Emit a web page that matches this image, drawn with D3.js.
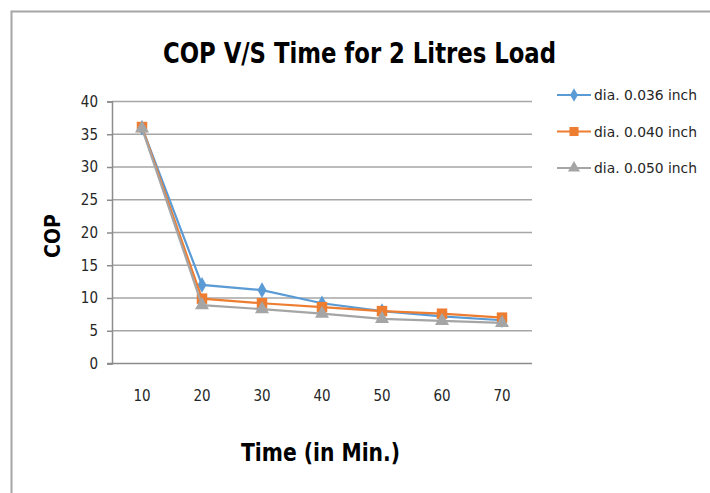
<!DOCTYPE html>
<html>
<head>
<meta charset="utf-8">
<script src="https://cdn.jsdelivr.net/npm/d3@7"></script>
<style>
  html, body { margin: 0; padding: 0; background: #fff; }
  svg { display: block; }
  text { font-family: "DejaVu Sans Condensed", "DejaVu Sans", sans-serif; font-stretch: condensed; }
</style>
</head>
<body>
<svg id="chart" width="710" height="493"></svg>
<script>
// Time steps (minutes) along the category axis
const times = ["10", "20", "30", "40", "50", "60", "70"];
// COP readings for each capillary diameter
const cop036 = [36.0, 12.0, 11.2, 9.2, 8.0, 7.2, 6.6];
const cop040 = [36.1, 9.9, 9.2, 8.6, 8.0, 7.6, 7.0];
const cop050 = [35.9, 8.9, 8.3, 7.6, 6.8, 6.5, 6.2];
const seriesNames = ["dia. 0.036 inch", "dia. 0.040 inch", "dia. 0.050 inch"];
const yTicks = [0, 5, 10, 15, 20, 25, 30, 35, 40];

const series = [
  { name: seriesNames[0], values: cop036, color: "#5b9bd5", symbol: d3.symbolDiamond, size: 70 },
  { name: seriesNames[1], values: cop040, color: "#ed7d31", symbol: d3.symbolSquare, size: 110 },
  { name: seriesNames[2], values: cop050, color: "#a5a5a5", symbol: d3.symbolTriangle, size: 85 }
];

const svg = d3.select("#chart");
const plot = { left: 112, right: 532, top: 101.5, bottom: 363.5 };

// outer frame (top and left edges)
svg.append("path")
  .attr("d", "M11.5,493 V11.5 H710")
  .attr("fill", "none").attr("stroke", "#a6a6a6").attr("stroke-width", 2);

const x = d3.scaleBand().domain(times).range([plot.left, plot.right]);
const y = d3.scaleLinear().domain([0, 40]).range([plot.bottom, plot.top]);

// horizontal gridlines
svg.append("g").selectAll("line").data(yTicks.filter(d => d > 0)).join("line")
  .attr("x1", plot.left).attr("x2", plot.right)
  .attr("y1", d => y(d)).attr("y2", d => y(d))
  .attr("stroke", "#a6a6a6").attr("stroke-width", 1.5);

// value axis
const yAxis = svg.append("g").attr("transform", `translate(${plot.left},0)`)
  .call(d3.axisLeft(y).tickValues(yTicks).tickSize(5).tickPadding(9));
yAxis.select(".domain").attr("stroke", "#8c8c8c").attr("stroke-width", 1.5);
yAxis.selectAll(".tick line").attr("stroke", "#8c8c8c").attr("stroke-width", 1.5);
yAxis.selectAll(".tick text").attr("font-size", 15).attr("fill", "#262626");

// category axis
const xAxis = svg.append("g").attr("transform", `translate(0,${plot.bottom})`)
  .call(d3.axisBottom(x).tickSize(0).tickPadding(27));
xAxis.select(".domain").attr("stroke", "#8c8c8c").attr("stroke-width", 1.5)
  .attr("d", `M${plot.left - 5},0H${plot.right}`);
xAxis.selectAll(".tick text").attr("font-size", 15).attr("fill", "#262626");

// series lines and markers
const line = d3.line().x((d, i) => x(times[i]) + x.bandwidth() / 2).y(d => y(d));
series.forEach(s => {
  svg.append("path").datum(s.values)
    .attr("d", line).attr("fill", "none")
    .attr("stroke", s.color).attr("stroke-width", 2.2);
  svg.append("g").selectAll("path").data(s.values).join("path")
    .attr("transform", (d, i) => `translate(${x(times[i]) + x.bandwidth() / 2},${y(d)})`)
    .attr("d", d3.symbol().type(s.symbol).size(s.size))
    .attr("fill", s.color);
});

// legend
const legend = svg.append("g");
series.forEach((s, i) => {
  const ly = 95 + i * 36.5;
  legend.append("line").attr("x1", 557).attr("x2", 591).attr("y1", ly).attr("y2", ly)
    .attr("stroke", s.color).attr("stroke-width", 2);
  legend.append("path").attr("transform", `translate(574,${ly})`)
    .attr("d", d3.symbol().type(s.symbol).size(s.size * 0.75)).attr("fill", s.color);
  legend.append("text").attr("x", 594).attr("y", ly).attr("dy", "0.35em")
    .attr("font-size", 14.5).attr("fill", "#262626")
    .attr("textLength", 103).attr("lengthAdjust", "spacingAndGlyphs")
    .text(s.name);
});

// title and axis titles
svg.append("text").attr("x", 163).attr("y", 63)
  .attr("font-size", 29).attr("font-weight", "bold").attr("fill", "#000")
  .attr("textLength", 393).attr("lengthAdjust", "spacingAndGlyphs")
  .text("COP V/S Time for 2 Litres Load");
svg.append("text").attr("x", 241).attr("y", 461)
  .attr("font-size", 24).attr("font-weight", "bold").attr("fill", "#000")
  .attr("textLength", 159).attr("lengthAdjust", "spacingAndGlyphs")
  .text("Time (in Min.)");
svg.append("text").attr("transform", "translate(60,236) rotate(-90)").attr("text-anchor", "middle")
  .attr("font-size", 21).attr("font-weight", "bold").attr("fill", "#000")
  .text("COP");
</script>
</body>
</html>
